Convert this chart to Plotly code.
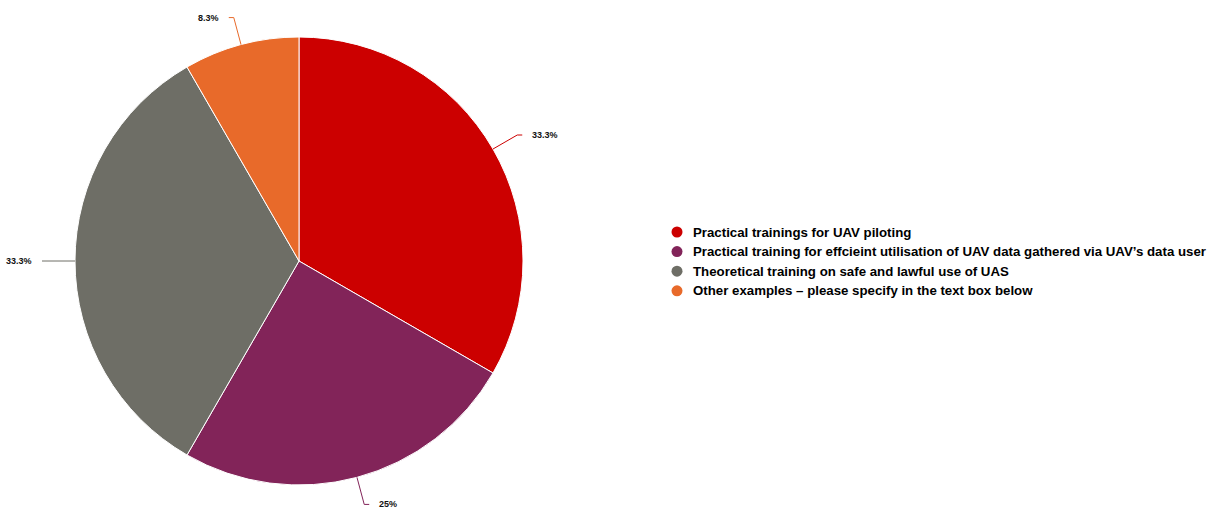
import math
import plotly.graph_objects as go

# Survey answers and their shares
categories = [
    "Practical trainings for UAV piloting",
    "Practical training for effcieint utilisation of UAV data gathered via UAV\u2019s data user",
    "Theoretical training on safe and lawful use of UAS",
    "Other examples \u2013 please specify in the text box below",
]
values = [4, 3, 4, 1]
value_labels = ["33.3%", "25%", "33.3%", "8.3%"]
colors = ["#CC0000", "#822459", "#6E6E66", "#E86A2A"]

W, H = 1215, 508
FONT = "Liberation Sans, Arial, sans-serif"

# pie placement in pixels
cx, cy, R = 299, 261, 224


def px(x):
    return x / W


def py(y):
    return 1 - y / H


fig = go.Figure()
fig.add_trace(go.Pie(
    labels=categories,
    values=values,
    sort=False,
    direction="clockwise",
    rotation=0,
    marker=dict(colors=colors, line=dict(color="white", width=1)),
    textinfo="none",
    hoverinfo="label+percent",
    showlegend=False,
    domain=dict(x=[px(cx - R), px(cx + R)], y=[py(cy + R), py(cy - R)]),
))

shapes = []
annotations = []

# leader lines and outside value labels, placed from each slice's mid-angle
total = sum(values)
cum = 0
for v, lab, col in zip(values, value_labels, colors):
    mid = 2 * math.pi * (cum + v / 2) / total
    cum += v
    s, c = math.sin(mid), math.cos(mid)
    x0, y0 = cx + R * s, cy - R * c
    x1, y1 = cx + (R + 28) * s, cy - (R + 28) * c
    side = 1 if s >= 0 else -1
    x2 = x1 + 5 * side
    shapes.append(dict(
        type="path", xref="paper", yref="paper",
        path=f"M {px(x0)},{py(y0)} L {px(x1)},{py(y1)} L {px(x2)},{py(y1)}",
        line=dict(color=col, width=1),
    ))
    annotations.append(dict(
        xref="paper", yref="paper", x=px(x2 + 8 * side), y=py(y1),
        text=f"<b>{lab}</b>", showarrow=False,
        xanchor="left" if side > 0 else "right", yanchor="middle",
        font=dict(family=FONT, size=9, color="#111111"),
    ))

# legend with round markers
leg_x, leg_y0, leg_dy, dot_r = 677, 232, 19.6, 5.5
for i, (name, col) in enumerate(zip(categories, colors)):
    yy = leg_y0 + i * leg_dy
    shapes.append(dict(
        type="circle", xref="paper", yref="paper",
        x0=px(leg_x - dot_r), x1=px(leg_x + dot_r),
        y0=py(yy + dot_r), y1=py(yy - dot_r),
        fillcolor=col, line=dict(width=0),
    ))
    annotations.append(dict(
        xref="paper", yref="paper", x=px(leg_x + 14), y=py(yy),
        text=f"<b>{name}</b>", showarrow=False,
        xanchor="left", yanchor="middle",
        font=dict(family=FONT, size=13.25, color="#000000"),
    ))

fig.update_layout(
    width=W, height=H,
    margin=dict(l=0, r=0, t=0, b=0),
    paper_bgcolor="white",
    plot_bgcolor="white",
    shapes=shapes,
    annotations=annotations,
)

fig.write_html("out.html")
